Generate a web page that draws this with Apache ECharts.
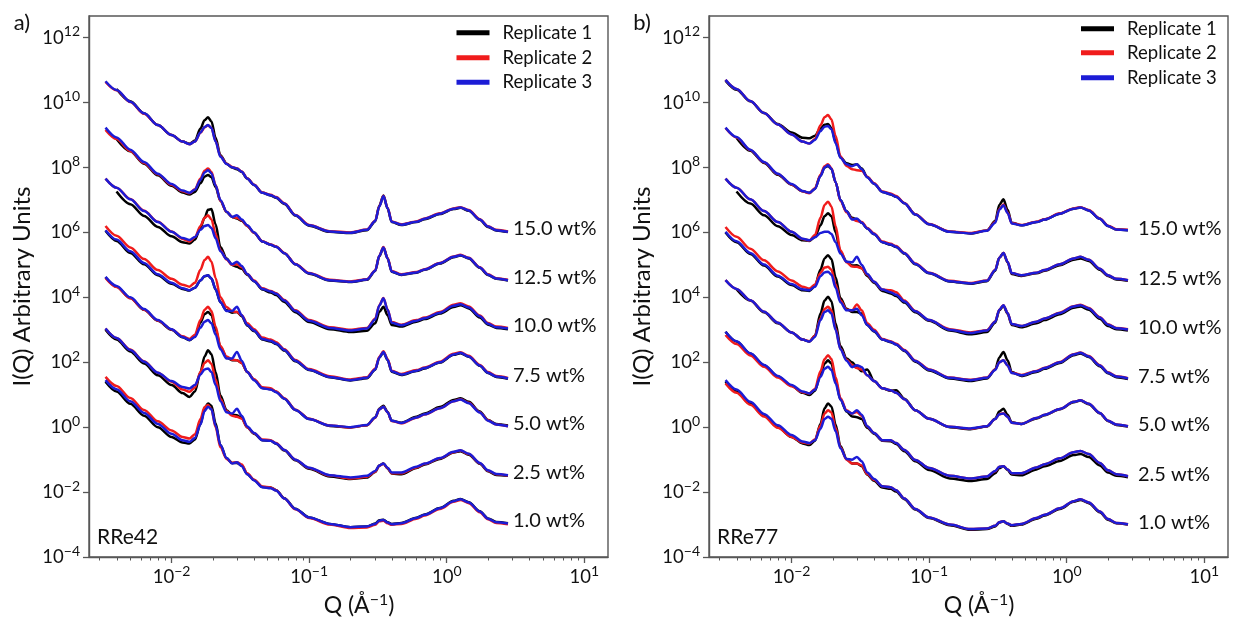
<!DOCTYPE html>
<html>
<head>
<meta charset="utf-8">
<title>SAXS/WAXS replicates</title>
<script src="https://cdn.jsdelivr.net/npm/echarts@6/dist/echarts.min.js"></script>
<style>
  html, body { margin: 0; padding: 0; background: #ffffff; }
  #chart { width: 1233px; height: 622px; }
</style>
</head>
<body>
<div id="chart"></div>
<script>
// Scattering vector sample positions, log10(Q / Å^-1)
const LOG_Q = [-2.48, -2.40, -2.30, -2.20, -2.10, -2.00, -1.92, -1.87, -1.83, -1.79,
  -1.76, -1.735, -1.71, -1.68, -1.645, -1.60, -1.56, -1.525, -1.49, -1.45,
  -1.40, -1.34, -1.28, -1.24, -1.18, -1.10, -1.00, -0.85, -0.70, -0.58,
  -0.52, -0.49, -0.46, -0.43, -0.40, -0.33, -0.22, -0.16, -0.05, 0.05,
  0.10, 0.16, 0.24, 0.30, 0.36, 0.445];

// Intensities as log10 I(Q), arbitrary units, stacked per concentration. RRe42:
const rre42_w150_rep1 = [null, 10.42, 10.04, 9.67, 9.31, 9.00, 8.80, 8.73, 8.83, 9.20, 9.46, 9.55, 9.42, 8.92, 8.38, 8.12, 8.00, 7.95, 7.86, 7.66, 7.46, 7.22, 7.14, 7.07, 6.88, 6.52, 6.21, 6.02, 5.98, 6.07, 6.34, 6.82, 7.14, 6.74, 6.32, 6.23, 6.32, 6.41, 6.57, 6.72, 6.76, 6.67, 6.39, 6.17, 6.06, 6.01];
const rre42_w150_rep2 = [10.64, 10.38, 10.02, 9.66, 9.31, 9.00, 8.80, 8.72, 8.80, 9.07, 9.24, 9.30, 9.22, 8.82, 8.35, 8.12, 8.02, 7.98, 7.88, 7.67, 7.47, 7.23, 7.16, 7.09, 6.90, 6.54, 6.23, 6.04, 6.00, 6.09, 6.36, 6.81, 7.13, 6.76, 6.34, 6.25, 6.34, 6.43, 6.59, 6.74, 6.78, 6.69, 6.41, 6.19, 6.08, 6.03];
const rre42_w150_rep3 = [10.66, 10.39, 10.03, 9.67, 9.31, 9.00, 8.80, 8.72, 8.80, 9.08, 9.25, 9.31, 9.22, 8.80, 8.33, 8.11, 8.01, 7.97, 7.87, 7.66, 7.46, 7.22, 7.15, 7.08, 6.89, 6.53, 6.22, 6.03, 5.99, 6.08, 6.35, 6.80, 7.12, 6.75, 6.33, 6.24, 6.33, 6.42, 6.58, 6.73, 6.77, 6.68, 6.40, 6.18, 6.07, 6.02];

const rre42_w125_rep1 = [null, 8.88, 8.50, 8.12, 7.76, 7.44, 7.23, 7.17, 7.25, 7.52, 7.72, 7.77, 7.70, 7.40, 6.98, 6.63, 6.48, 6.43, 6.36, 6.20, 5.99, 5.72, 5.62, 5.56, 5.36, 5.02, 4.73, 4.52, 4.47, 4.54, 4.81, 5.27, 5.54, 5.20, 4.79, 4.69, 4.76, 4.85, 5.04, 5.24, 5.29, 5.20, 4.91, 4.69, 4.57, 4.52];
const rre42_w125_rep2 = [9.16, 8.88, 8.51, 8.14, 7.79, 7.47, 7.27, 7.21, 7.33, 7.66, 7.90, 7.97, 7.86, 7.46, 6.98, 6.64, 6.48, 6.45, 6.38, 6.20, 5.99, 5.73, 5.63, 5.57, 5.37, 5.03, 4.75, 4.54, 4.49, 4.56, 4.83, 5.28, 5.55, 5.21, 4.81, 4.71, 4.78, 4.87, 5.06, 5.26, 5.31, 5.22, 4.93, 4.71, 4.59, 4.54];
const rre42_w125_rep3 = [9.23, 8.93, 8.55, 8.17, 7.81, 7.49, 7.29, 7.22, 7.32, 7.62, 7.85, 7.92, 7.82, 7.45, 7.00, 6.64, 6.48, 6.53, 6.40, 6.22, 6.00, 5.72, 5.62, 5.56, 5.36, 5.02, 4.74, 4.53, 4.48, 4.55, 4.82, 5.28, 5.54, 5.20, 4.80, 4.70, 4.77, 4.86, 5.05, 5.25, 5.30, 5.21, 4.92, 4.70, 4.58, 4.53];

const rre42_w100_rep1 = [null, 7.26, 6.87, 6.51, 6.17, 5.88, 5.70, 5.66, 5.78, 6.15, 6.45, 6.70, 6.72, 6.25, 5.55, 5.20, 5.00, 4.94, 4.88, 4.70, 4.50, 4.24, 4.15, 4.07, 3.86, 3.54, 3.24, 3.02, 2.93, 2.97, 3.20, 3.55, 3.71, 3.45, 3.15, 3.10, 3.25, 3.33, 3.50, 3.70, 3.76, 3.66, 3.38, 3.16, 3.06, 3.02];
const rre42_w100_rep2 = [7.66, 7.38, 7.03, 6.67, 6.33, 6.03, 5.80, 5.72, 5.85, 6.20, 6.45, 6.53, 6.40, 5.95, 5.45, 5.17, 5.00, 5.02, 4.93, 4.72, 4.52, 4.28, 4.20, 4.13, 3.92, 3.60, 3.30, 3.08, 3.00, 3.06, 3.34, 3.76, 3.98, 3.63, 3.24, 3.16, 3.30, 3.38, 3.55, 3.77, 3.82, 3.72, 3.44, 3.21, 3.10, 3.06];
const rre42_w100_rep3 = [7.66, 7.38, 7.02, 6.66, 6.32, 6.02, 5.83, 5.77, 5.86, 6.08, 6.20, 6.23, 6.14, 5.82, 5.42, 5.18, 5.02, 5.10, 4.97, 4.72, 4.50, 4.26, 4.18, 4.11, 3.90, 3.58, 3.28, 3.06, 2.98, 3.04, 3.32, 3.75, 3.97, 3.62, 3.22, 3.14, 3.28, 3.36, 3.53, 3.74, 3.79, 3.69, 3.42, 3.19, 3.08, 3.04];

const rre42_w075_rep1 = [6.05, 5.74, 5.37, 5.02, 4.68, 4.42, 4.26, 4.21, 4.30, 4.52, 4.65, 4.68, 4.58, 4.25, 3.85, 3.60, 3.53, 3.55, 3.42, 3.13, 2.96, 2.70, 2.64, 2.56, 2.36, 2.03, 1.76, 1.54, 1.44, 1.51, 1.77, 2.14, 2.31, 2.07, 1.71, 1.61, 1.73, 1.81, 1.99, 2.23, 2.28, 2.17, 1.89, 1.67, 1.55, 1.49];
const rre42_w075_rep2 = [6.20, 5.90, 5.54, 5.18, 4.84, 4.57, 4.39, 4.33, 4.45, 4.85, 5.15, 5.25, 5.10, 4.60, 4.00, 3.70, 3.57, 3.55, 3.45, 3.20, 3.02, 2.76, 2.70, 2.62, 2.40, 2.07, 1.79, 1.57, 1.47, 1.54, 1.80, 2.17, 2.34, 2.10, 1.74, 1.64, 1.76, 1.84, 2.02, 2.26, 2.31, 2.20, 1.92, 1.70, 1.58, 1.52];
const rre42_w075_rep3 = [6.07, 5.78, 5.42, 5.06, 4.71, 4.45, 4.28, 4.22, 4.30, 4.52, 4.66, 4.68, 4.58, 4.25, 3.85, 3.58, 3.58, 3.71, 3.45, 3.15, 2.98, 2.72, 2.66, 2.58, 2.38, 2.05, 1.77, 1.55, 1.45, 1.52, 1.78, 2.15, 2.32, 2.08, 1.72, 1.62, 1.74, 1.82, 2.00, 2.24, 2.29, 2.18, 1.90, 1.68, 1.56, 1.50];

const rre42_w050_rep1 = [4.62, 4.33, 3.98, 3.62, 3.28, 3.00, 2.77, 2.68, 2.80, 3.22, 3.48, 3.55, 3.45, 3.02, 2.48, 2.15, 2.06, 2.06, 1.98, 1.70, 1.46, 1.21, 1.17, 1.09, 0.88, 0.53, 0.25, 0.04, -0.01, 0.06, 0.30, 0.57, 0.66, 0.47, 0.20, 0.14, 0.32, 0.42, 0.62, 0.84, 0.89, 0.78, 0.48, 0.22, 0.10, 0.05];
const rre42_w050_rep2 = [4.60, 4.32, 3.97, 3.62, 3.29, 3.01, 2.80, 2.72, 2.85, 3.30, 3.62, 3.71, 3.58, 3.10, 2.50, 2.18, 2.08, 2.06, 1.98, 1.70, 1.48, 1.23, 1.20, 1.10, 0.89, 0.54, 0.26, 0.05, -0.01, 0.06, 0.29, 0.55, 0.63, 0.46, 0.19, 0.12, 0.29, 0.39, 0.58, 0.80, 0.86, 0.75, 0.46, 0.21, 0.08, 0.03];
const rre42_w050_rep3 = [4.63, 4.35, 4.00, 3.64, 3.30, 3.02, 2.78, 2.69, 2.78, 3.07, 3.25, 3.30, 3.20, 2.85, 2.40, 2.12, 2.12, 2.32, 2.05, 1.70, 1.45, 1.20, 1.16, 1.08, 0.88, 0.53, 0.25, 0.05, 0.00, 0.07, 0.30, 0.55, 0.63, 0.46, 0.20, 0.13, 0.30, 0.40, 0.58, 0.80, 0.85, 0.74, 0.45, 0.20, 0.08, 0.03];

const rre42_w025_rep1 = [3.00, 2.70, 2.33, 1.96, 1.60, 1.30, 1.05, 0.93, 1.10, 1.70, 2.18, 2.37, 2.25, 1.70, 0.98, 0.52, 0.38, 0.37, 0.28, 0.00, -0.20, -0.40, -0.42, -0.51, -0.72, -1.02, -1.28, -1.52, -1.60, -1.55, -1.38, -1.18, -1.12, -1.27, -1.43, -1.45, -1.26, -1.15, -0.98, -0.78, -0.74, -0.85, -1.13, -1.36, -1.47, -1.50];
const rre42_w025_rep2 = [3.04, 2.75, 2.39, 2.03, 1.68, 1.40, 1.16, 1.09, 1.22, 1.70, 1.98, 2.06, 1.95, 1.48, 0.88, 0.50, 0.35, 0.32, 0.26, 0.00, -0.19, -0.38, -0.40, -0.49, -0.70, -1.00, -1.26, -1.49, -1.58, -1.53, -1.37, -1.19, -1.13, -1.26, -1.42, -1.42, -1.24, -1.13, -0.96, -0.77, -0.72, -0.83, -1.11, -1.34, -1.45, -1.49];
const rre42_w025_rep3 = [3.04, 2.75, 2.38, 2.02, 1.68, 1.42, 1.24, 1.19, 1.30, 1.62, 1.78, 1.81, 1.70, 1.30, 0.80, 0.46, 0.42, 0.57, 0.35, 0.02, -0.18, -0.40, -0.42, -0.50, -0.70, -1.00, -1.25, -1.48, -1.55, -1.50, -1.35, -1.18, -1.12, -1.25, -1.40, -1.40, -1.22, -1.12, -0.95, -0.76, -0.71, -0.82, -1.10, -1.33, -1.44, -1.48];

const rre42_w010_rep1 = [1.40, 1.10, 0.72, 0.35, 0.00, -0.30, -0.47, -0.50, -0.38, 0.10, 0.58, 0.73, 0.66, 0.12, -0.55, -0.96, -1.10, -1.10, -1.18, -1.44, -1.63, -1.84, -1.86, -1.94, -2.19, -2.51, -2.78, -2.98, -3.08, -3.06, -2.97, -2.87, -2.85, -2.93, -2.98, -2.95, -2.79, -2.69, -2.49, -2.27, -2.21, -2.31, -2.59, -2.81, -2.92, -2.96];
const rre42_w010_rep2 = [1.55, 1.27, 0.90, 0.53, 0.18, -0.10, -0.30, -0.35, -0.22, 0.25, 0.62, 0.68, 0.55, 0.00, -0.62, -0.98, -1.10, -1.08, -1.15, -1.42, -1.62, -1.83, -1.86, -1.94, -2.20, -2.53, -2.80, -3.00, -3.11, -3.09, -3.01, -2.90, -2.88, -2.96, -3.01, -2.98, -2.82, -2.72, -2.52, -2.30, -2.24, -2.34, -2.62, -2.84, -2.95, -2.99];
const rre42_w010_rep3 = [1.45, 1.17, 0.80, 0.44, 0.10, -0.20, -0.40, -0.45, -0.33, 0.08, 0.50, 0.63, 0.55, 0.05, -0.55, -0.95, -1.12, -1.08, -1.20, -1.45, -1.64, -1.85, -1.88, -1.95, -2.20, -2.52, -2.78, -2.98, -3.08, -3.06, -2.98, -2.88, -2.86, -2.94, -2.99, -2.96, -2.80, -2.70, -2.50, -2.28, -2.22, -2.32, -2.60, -2.82, -2.93, -2.97];

// RRe77
const rre77_w150_rep1 = [10.68, 10.40, 10.04, 9.68, 9.34, 9.08, 8.92, 8.90, 8.98, 9.20, 9.32, 9.34, 9.22, 8.80, 8.32, 8.13, 8.08, 8.10, 7.97, 7.71, 7.50, 7.25, 7.17, 7.10, 6.90, 6.55, 6.25, 6.02, 5.97, 6.06, 6.35, 6.85, 7.02, 6.70, 6.30, 6.22, 6.32, 6.40, 6.58, 6.73, 6.77, 6.68, 6.42, 6.20, 6.09, 6.07];
const rre77_w150_rep2 = [10.70, 10.42, 10.05, 9.68, 9.33, 9.02, 8.80, 8.74, 8.88, 9.30, 9.55, 9.62, 9.48, 8.98, 8.35, 8.05, 7.95, 7.92, 7.90, 7.72, 7.52, 7.26, 7.20, 7.12, 6.91, 6.56, 6.26, 6.03, 5.98, 6.06, 6.32, 6.72, 6.86, 6.62, 6.29, 6.23, 6.33, 6.41, 6.59, 6.74, 6.78, 6.69, 6.43, 6.21, 6.10, 6.08];
const rre77_w150_rep3 = [10.70, 10.42, 10.05, 9.68, 9.33, 9.02, 8.80, 8.74, 8.85, 9.12, 9.26, 9.28, 9.18, 8.75, 8.30, 8.10, 8.04, 8.10, 7.95, 7.70, 7.50, 7.25, 7.18, 7.10, 6.90, 6.55, 6.25, 6.02, 5.97, 6.05, 6.30, 6.70, 6.84, 6.60, 6.28, 6.22, 6.32, 6.40, 6.58, 6.73, 6.77, 6.68, 6.42, 6.20, 6.09, 6.07];

const rre77_w125_rep1 = [null, 8.92, 8.52, 8.14, 7.78, 7.47, 7.27, 7.22, 7.35, 7.75, 8.00, 8.05, 7.96, 7.55, 7.00, 6.65, 6.45, 6.40, 6.30, 6.12, 5.95, 5.70, 5.62, 5.55, 5.35, 5.02, 4.74, 4.49, 4.42, 4.50, 4.82, 5.22, 5.37, 5.08, 4.72, 4.66, 4.74, 4.82, 4.99, 5.16, 5.20, 5.12, 4.85, 4.66, 4.55, 4.51];
const rre77_w125_rep2 = [9.22, 8.93, 8.54, 8.16, 7.80, 7.48, 7.27, 7.21, 7.36, 7.78, 8.04, 8.10, 7.98, 7.55, 6.98, 6.62, 6.42, 6.35, 6.32, 6.14, 5.97, 5.72, 5.65, 5.58, 5.37, 5.04, 4.76, 4.51, 4.44, 4.52, 4.85, 5.22, 5.37, 5.10, 4.75, 4.68, 4.76, 4.84, 5.02, 5.20, 5.25, 5.16, 4.88, 4.68, 4.57, 4.53];
const rre77_w125_rep3 = [9.23, 8.94, 8.55, 8.17, 7.81, 7.49, 7.28, 7.22, 7.34, 7.74, 8.00, 8.07, 7.96, 7.55, 7.00, 6.65, 6.40, 6.43, 6.30, 6.12, 5.95, 5.70, 5.63, 5.56, 5.36, 5.03, 4.75, 4.50, 4.43, 4.51, 4.84, 5.22, 5.37, 5.10, 4.75, 4.68, 4.76, 4.84, 5.02, 5.20, 5.25, 5.16, 4.88, 4.68, 4.57, 4.53];

const rre77_w100_rep1 = [null, 7.26, 6.89, 6.53, 6.19, 5.92, 5.76, 5.74, 5.86, 6.22, 6.50, 6.59, 6.50, 6.00, 5.40, 5.10, 4.98, 4.99, 4.90, 4.66, 4.45, 4.20, 4.12, 4.04, 3.84, 3.54, 3.28, 2.98, 2.86, 2.93, 3.22, 3.60, 3.74, 3.50, 3.15, 3.08, 3.20, 3.30, 3.48, 3.68, 3.72, 3.62, 3.34, 3.12, 3.02, 2.98];
const rre77_w100_rep2 = [7.66, 7.38, 7.02, 6.66, 6.32, 6.02, 5.80, 5.75, 5.92, 6.45, 6.85, 6.95, 6.80, 6.20, 5.45, 5.08, 4.95, 4.94, 4.90, 4.70, 4.48, 4.24, 4.22, 4.16, 3.90, 3.58, 3.30, 3.02, 2.92, 2.99, 3.26, 3.62, 3.76, 3.52, 3.18, 3.12, 3.25, 3.35, 3.53, 3.73, 3.77, 3.67, 3.39, 3.17, 3.06, 3.02];
const rre77_w100_rep3 = [7.66, 7.38, 7.02, 6.66, 6.32, 6.02, 5.81, 5.76, 5.85, 5.98, 6.02, 6.02, 5.95, 5.70, 5.35, 5.10, 5.08, 5.25, 5.00, 4.72, 4.48, 4.24, 4.16, 4.08, 3.87, 3.57, 3.30, 3.00, 2.90, 2.98, 3.25, 3.62, 3.76, 3.52, 3.18, 3.12, 3.25, 3.35, 3.52, 3.72, 3.76, 3.66, 3.38, 3.16, 3.05, 3.01];

const rre77_w075_rep1 = [6.00, 5.70, 5.34, 4.98, 4.64, 4.38, 4.22, 4.20, 4.35, 4.85, 5.20, 5.30, 5.18, 4.62, 3.98, 3.65, 3.55, 3.55, 3.50, 3.15, 2.95, 2.70, 2.62, 2.55, 2.35, 2.02, 1.75, 1.50, 1.42, 1.50, 1.78, 2.15, 2.32, 2.06, 1.70, 1.58, 1.70, 1.80, 1.98, 2.22, 2.27, 2.16, 1.88, 1.66, 1.54, 1.48];
const rre77_w075_rep2 = [6.17, 5.87, 5.50, 5.14, 4.80, 4.52, 4.33, 4.27, 4.40, 4.75, 4.92, 4.94, 4.85, 4.40, 3.90, 3.62, 3.60, 3.78, 3.60, 3.20, 3.00, 2.72, 2.65, 2.57, 2.38, 2.05, 1.78, 1.53, 1.46, 1.53, 1.78, 2.00, 2.06, 1.90, 1.68, 1.61, 1.73, 1.83, 2.01, 2.25, 2.30, 2.19, 1.91, 1.69, 1.57, 1.51];
const rre77_w075_rep3 = [6.02, 5.73, 5.37, 5.01, 4.67, 4.41, 4.25, 4.22, 4.33, 4.65, 4.77, 4.79, 4.70, 4.30, 3.85, 3.60, 3.60, 3.65, 3.45, 3.15, 2.96, 2.70, 2.63, 2.55, 2.36, 2.04, 1.77, 1.52, 1.45, 1.52, 1.76, 2.00, 2.06, 1.90, 1.67, 1.60, 1.72, 1.82, 2.00, 2.24, 2.29, 2.18, 1.90, 1.68, 1.56, 1.50];

const rre77_w050_rep1 = [null, 4.25, 3.90, 3.54, 3.20, 2.92, 2.70, 2.64, 2.82, 3.50, 3.90, 4.02, 3.88, 3.20, 2.50, 2.12, 2.00, 1.85, 1.72, 1.78, 1.42, 1.20, 1.12, 1.14, 0.88, 0.52, 0.26, 0.00, -0.06, 0.02, 0.26, 0.48, 0.57, 0.38, 0.15, 0.10, 0.27, 0.37, 0.55, 0.77, 0.82, 0.71, 0.43, 0.19, 0.07, 0.02];
const rre77_w050_rep2 = [4.53, 4.26, 3.91, 3.56, 3.22, 2.92, 2.70, 2.65, 2.82, 3.35, 3.64, 3.71, 3.60, 3.05, 2.42, 2.08, 1.92, 1.82, 1.78, 1.60, 1.42, 1.20, 1.14, 1.06, 0.86, 0.52, 0.26, 0.01, -0.05, 0.03, 0.25, 0.40, 0.43, 0.32, 0.14, 0.10, 0.28, 0.38, 0.56, 0.78, 0.83, 0.72, 0.44, 0.20, 0.08, 0.03];
const rre77_w050_rep3 = [4.53, 4.26, 3.91, 3.56, 3.22, 2.92, 2.70, 2.64, 2.78, 3.30, 3.55, 3.60, 3.50, 3.00, 2.40, 2.05, 1.85, 1.91, 1.85, 1.60, 1.42, 1.20, 1.14, 1.06, 0.86, 0.52, 0.26, 0.01, -0.04, 0.03, 0.25, 0.40, 0.42, 0.32, 0.14, 0.10, 0.28, 0.38, 0.56, 0.78, 0.83, 0.72, 0.44, 0.20, 0.08, 0.03];

const rre77_w025_rep1 = [2.94, 2.64, 2.27, 1.91, 1.56, 1.28, 1.06, 0.99, 1.12, 1.62, 1.96, 2.06, 1.96, 1.45, 0.85, 0.48, 0.33, 0.31, 0.25, -0.02, -0.20, -0.42, -0.43, -0.52, -0.74, -1.05, -1.32, -1.58, -1.66, -1.60, -1.42, -1.26, -1.20, -1.32, -1.46, -1.48, -1.30, -1.20, -1.04, -0.86, -0.83, -0.92, -1.18, -1.40, -1.50, -1.54];
const rre77_w025_rep2 = [2.84, 2.56, 2.21, 1.86, 1.53, 1.26, 1.08, 1.04, 1.18, 1.72, 2.10, 2.22, 2.10, 1.55, 0.90, 0.52, 0.42, 0.47, 0.35, 0.02, -0.18, -0.40, -0.40, -0.49, -0.70, -1.01, -1.26, -1.50, -1.58, -1.52, -1.36, -1.22, -1.20, -1.30, -1.42, -1.42, -1.24, -1.14, -0.96, -0.77, -0.73, -0.83, -1.10, -1.33, -1.45, -1.51];
const rre77_w025_rep3 = [2.94, 2.65, 2.28, 1.92, 1.58, 1.30, 1.10, 1.04, 1.15, 1.55, 1.80, 1.86, 1.76, 1.35, 0.85, 0.50, 0.42, 0.52, 0.38, 0.03, -0.18, -0.40, -0.40, -0.49, -0.70, -1.01, -1.26, -1.50, -1.58, -1.52, -1.35, -1.22, -1.20, -1.30, -1.42, -1.42, -1.24, -1.14, -0.96, -0.77, -0.73, -0.83, -1.10, -1.33, -1.45, -1.51];

const rre77_w010_rep1 = [1.40, 1.10, 0.72, 0.35, 0.00, -0.30, -0.50, -0.55, -0.42, 0.10, 0.58, 0.73, 0.64, 0.08, -0.58, -0.98, -1.12, -1.12, -1.20, -1.46, -1.65, -1.86, -1.90, -1.98, -2.22, -2.54, -2.80, -3.02, -3.16, -3.14, -3.06, -2.94, -2.90, -2.98, -3.04, -3.00, -2.82, -2.72, -2.52, -2.30, -2.24, -2.34, -2.62, -2.85, -2.96, -3.00];
const rre77_w010_rep2 = [1.35, 1.06, 0.69, 0.33, -0.02, -0.30, -0.47, -0.50, -0.38, 0.05, 0.42, 0.52, 0.45, -0.02, -0.62, -1.00, -1.12, -1.12, -1.18, -1.44, -1.62, -1.82, -1.85, -1.94, -2.20, -2.52, -2.78, -3.00, -3.14, -3.12, -3.04, -2.93, -2.90, -2.97, -3.02, -2.98, -2.80, -2.70, -2.50, -2.28, -2.22, -2.32, -2.60, -2.83, -2.95, -2.99];
const rre77_w010_rep3 = [1.45, 1.16, 0.78, 0.41, 0.06, -0.24, -0.44, -0.49, -0.40, -0.05, 0.25, 0.32, 0.26, -0.12, -0.65, -0.98, -1.00, -0.92, -1.05, -1.40, -1.60, -1.82, -1.85, -1.94, -2.20, -2.52, -2.78, -3.00, -3.14, -3.12, -3.04, -2.93, -2.90, -2.97, -3.02, -2.98, -2.80, -2.70, -2.50, -2.28, -2.22, -2.32, -2.60, -2.83, -2.95, -2.99];

const CONCENTRATIONS = ['15.0 wt%', '12.5 wt%', '10.0 wt%', '7.5 wt%', '5.0 wt%', '2.5 wt%', '1.0 wt%'];
const REPLICATES = ['Replicate 1', 'Replicate 2', 'Replicate 3'];
const X_MAJOR = [-2, -1, 0, 1];          // decades of Q
const Y_MAJOR = [-4, -2, 0, 2, 4, 6, 8, 10, 12]; // decades of I(Q)

const COLORS = ['#000000', '#f01c1c', '#1c1cd6'];
const AXIS_COLOR = '#575757';
const TEXT_COLOR = '#111111';
const FONT = 'Lato';
const X_RANGE = [-2.6, 1.172];
const Y_RANGE = [-4, 12.67];

// minor decade ticks 2..9 × 10^n along Q
const X_MINOR = [];
for (let n = -3; n <= 1; n++) {
  for (let k = 2; k <= 9; k++) {
    const v = n + Math.log10(k);
    if (v > X_RANGE[0] && v < X_RANGE[1]) X_MINOR.push(v);
  }
}

const PANELS = [
  {
    grid: { left: 89, top: 16, width: 519, height: 541 },
    tag: 'a)', sample: 'RRe42', labelDistance: 5, labelOffset: -3,
    legendLeft: 456.5, legendRows: [33.3, 58.3, 82.7],
    curves: [
      [rre42_w150_rep1, rre42_w150_rep2, rre42_w150_rep3],
      [rre42_w125_rep1, rre42_w125_rep2, rre42_w125_rep3],
      [rre42_w100_rep1, rre42_w100_rep2, rre42_w100_rep3],
      [rre42_w075_rep1, rre42_w075_rep2, rre42_w075_rep3],
      [rre42_w050_rep1, rre42_w050_rep2, rre42_w050_rep3],
      [rre42_w025_rep1, rre42_w025_rep2, rre42_w025_rep3],
      [rre42_w010_rep1, rre42_w010_rep2, rre42_w010_rep3]
    ]
  },
  {
    grid: { left: 709, top: 16, width: 519, height: 541 },
    tag: 'b)', sample: 'RRe77', labelDistance: 10, labelOffset: -2,
    legendLeft: 1081, legendRows: [29.3, 53.3, 78.3],
    curves: [
      [rre77_w150_rep1, rre77_w150_rep2, rre77_w150_rep3],
      [rre77_w125_rep1, rre77_w125_rep2, rre77_w125_rep3],
      [rre77_w100_rep1, rre77_w100_rep2, rre77_w100_rep3],
      [rre77_w075_rep1, rre77_w075_rep2, rre77_w075_rep3],
      [rre77_w050_rep1, rre77_w050_rep2, rre77_w050_rep3],
      [rre77_w025_rep1, rre77_w025_rep2, rre77_w025_rep3],
      [rre77_w010_rep1, rre77_w010_rep2, rre77_w010_rep3]
    ]
  }
];

function exponentText(v) {
  const n = Math.round(v);
  return n < 0 ? '\u2212' + Math.abs(n) : String(n);
}
function powerLabel(v) {
  return '{b|10}{s|' + exponentText(v) + '}';
}
const POWER_RICH = {
  b: { fontFamily: FONT, fontSize: 18.5, color: TEXT_COLOR },
  s: { fontFamily: FONT, fontSize: 14, color: TEXT_COLOR, padding: [0, 0, 12, 0] }
};

const grids = [], xAxes = [], yAxes = [], series = [], legends = [], graphics = [];

PANELS.forEach((p, pi) => {
  grids.push(Object.assign({ show: true, borderColor: AXIS_COLOR, borderWidth: 1.4, containLabel: false }, p.grid));

  // major Q axis with labels
  xAxes.push({
    gridIndex: pi, type: 'value', position: 'bottom', min: X_RANGE[0], max: X_RANGE[1],
    axisLine: { show: true, onZero: false, lineStyle: { color: AXIS_COLOR, width: 1.4 } },
    axisTick: { show: true, customValues: X_MAJOR, length: 6, lineStyle: { color: AXIS_COLOR, width: 1.3 } },
    axisLabel: { customValues: X_MAJOR, formatter: powerLabel, rich: POWER_RICH, margin: 7 },
    splitLine: { show: false }
  });
  // minor Q ticks along the bottom edge
  xAxes.push({
    gridIndex: pi, type: 'value', position: 'bottom', min: X_RANGE[0], max: X_RANGE[1],
    axisLine: { show: false, onZero: false },
    axisTick: { show: true, customValues: X_MINOR, length: 3.5, lineStyle: { color: AXIS_COLOR, width: 1 } },
    axisLabel: { show: false },
    splitLine: { show: false }
  });
  yAxes.push({
    gridIndex: pi, type: 'value', min: Y_RANGE[0], max: Y_RANGE[1],
    axisLine: { show: true, onZero: false, lineStyle: { color: AXIS_COLOR, width: 1.4 } },
    axisTick: { show: true, customValues: Y_MAJOR, length: 6, lineStyle: { color: AXIS_COLOR, width: 1.3 } },
    axisLabel: { customValues: Y_MAJOR, formatter: powerLabel, rich: POWER_RICH, margin: 9 },
    splitLine: { show: false }
  });

  REPLICATES.forEach((rep, ri) => {
    p.curves.forEach((reps, ci) => {
      const values = reps[ri];
      const s = {
        type: 'line', name: rep, xAxisIndex: pi * 2, yAxisIndex: pi,
        data: LOG_Q.map((q, i) => [q, values[i]]),
        showSymbol: false, smooth: 0.3, smoothMonotone: 'x', silent: true,
        lineStyle: { color: COLORS[ri], width: 2.5 },
        itemStyle: { color: COLORS[ri] },
        z: 2 + ri
      };
      if (ri === REPLICATES.length - 1) {
        s.endLabel = {
          show: true, formatter: CONCENTRATIONS[ci], distance: p.labelDistance,
          offset: [0, p.labelOffset],
          fontFamily: FONT, fontSize: 20, color: TEXT_COLOR
        };
      }
      series.push(s);
    });
  });

  REPLICATES.forEach((rep, ri) => {
    legends.push({
      data: [rep], orient: 'vertical', left: p.legendLeft, top: p.legendRows[ri] - 10,
      padding: 0, icon: 'rect', itemWidth: 33, itemHeight: 5, selectedMode: false,
      textStyle: { fontFamily: FONT, fontSize: 18.5, color: TEXT_COLOR, padding: [0, 0, 0, 8] }
    });
  });

  const left = p.grid.left;
  graphics.push(
    { type: 'text', x: left - 67, y: 23.3,
      style: { text: p.tag, fontFamily: FONT, fontSize: 22, fill: TEXT_COLOR, align: 'center', verticalAlign: 'middle' } },
    { type: 'text', x: left + 8, y: 537.5,
      style: { text: p.sample, fontFamily: FONT, fontSize: 21, fill: TEXT_COLOR, align: 'left', verticalAlign: 'middle' } },
    { type: 'text', x: left - 66.5, y: 286.5, rotation: Math.PI / 2,
      style: { text: 'I(Q) Arbitrary Units', fontFamily: FONT, fontSize: 24, fill: TEXT_COLOR, align: 'center', verticalAlign: 'middle' } },
    { type: 'text', x: left + 270, y: 606,
      style: { text: 'Q (Å{s|\u22121})', fontFamily: FONT, fontSize: 23, fill: TEXT_COLOR, align: 'center', verticalAlign: 'middle',
        rich: { s: { fontFamily: FONT, fontSize: 16, fill: TEXT_COLOR, padding: [0, 0, 13, 0] } } } }
  );
});

const chart = echarts.init(document.getElementById('chart'), null, { renderer: 'canvas' });
chart.setOption({
  backgroundColor: '#ffffff',
  animation: false,
  grid: grids,
  xAxis: xAxes,
  yAxis: yAxes,
  legend: legends,
  graphic: graphics,
  series: series
});
</script>
</body>
</html>
